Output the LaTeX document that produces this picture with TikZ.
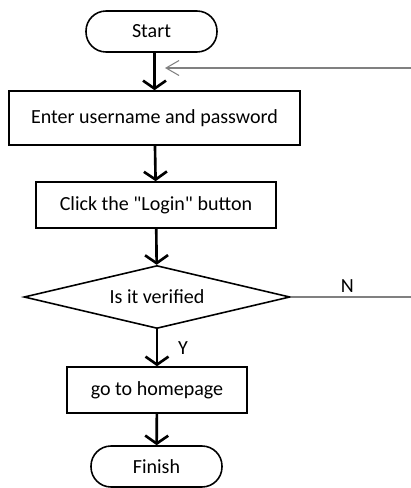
\documentclass[tikz,border=0pt]{standalone}
\usepackage{fontspec}
\setmainfont{Carlito}
\usetikzlibrary{arrows.meta,shapes.geometric}
\tikzset{
  flownode/.style = {align=center, inner sep=0pt, text centered,
    font=\fontsize{11.4}{13}\selectfont, draw=black, line width=0.9pt},
  term/.style = {flownode, rectangle, rounded corners=0.4cm,
    minimum width=2.62cm, minimum height=0.82cm},% start / finish
  proc/.style = {flownode, rectangle},% process box
  ask/.style = {flownode, diamond, aspect=4.2,
    minimum width=5.32cm, minimum height=1.26cm},% decision
  flow/.style = {-{Straight Barb[length=1.6mm,width=4.6mm]}, line width=1.5pt},
  back/.style = {gray, line width=0.6pt}
}

\begin{document}
\begin{tikzpicture}[x=0.02cm,y=-0.02cm]
\useasboundingbox (0,0) rectangle (411,488);
\node [term] (start) at (151.5,31.5) {Start};
\node [proc, minimum width=5.82cm, minimum height=1.08cm] (enter) at (154.5,118) {Enter username and password};
\node [proc, minimum width=4.8cm, minimum height=0.92cm] (click) at (156,205) {Click the \textquotedbl Login\textquotedbl{} button};
\node [ask] (check) at (157,297) {Is it verified};
\node [proc, minimum width=3.6cm, minimum height=0.92cm] (home) at (157,390) {go to homepage};
\node [term] (finish) at (156.5,466.5) {Finish};

\coordinate (nout) at (411,297);
\coordinate (nin) at (411,68);
\coordinate (ntip) at (165,68);

% main flow
\draw [flow] (start.south -| enter.north) -- (enter.north);
\draw [flow] (enter) -- (click);
\draw [flow] (click) -- (check);
\draw [flow] (check) -- node[right=8pt, font=\fontsize{11.4}{13}\selectfont] {Y} (home);
\draw [flow] (home) -- (finish);

% back to the login box
\draw [back] (check.east) -- node[above=-1pt, pos=0.47, text=black, font=\fontsize{11.4}{13}\selectfont] {N} (nout);
\draw [back, -{Straight Barb[length=2.6mm,width=3mm]}] (nin) -- (ntip);
\end{tikzpicture}
\end{document}
